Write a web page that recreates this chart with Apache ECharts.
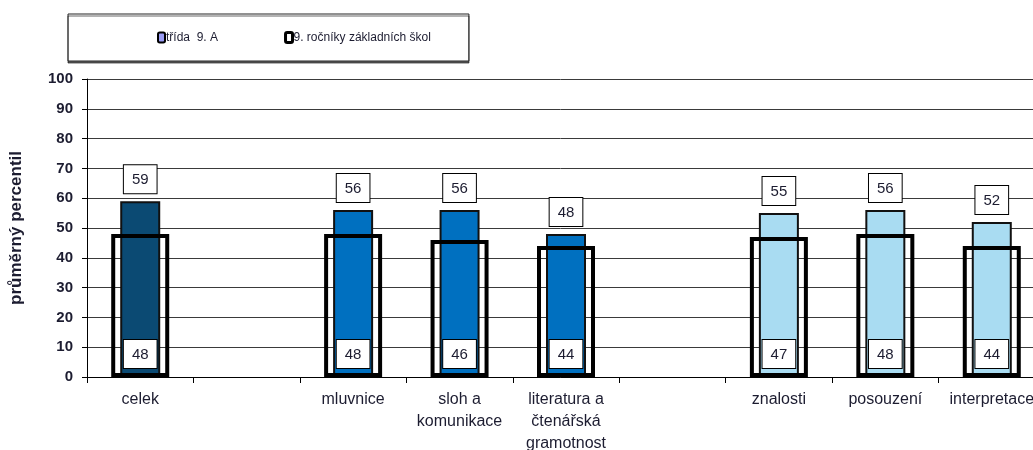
<!DOCTYPE html>
<html lang="cs">
<head>
    <meta charset="UTF-8">
    <title>průměrný percentil</title>
    <script src="https://cdn.jsdelivr.net/npm/echarts@6/dist/echarts.min.js"></script>
    <style type="text/css">
    html, body { margin: 0; padding: 0; background: #fff; }
    #main { width: 1033px; height: 450px; }
    </style>
</head>
<body>
    <div id="main"></div>
    <script type="text/javascript">
        // data
        var categories = ['celek', '', 'mluvnice', 'sloh a\nkomunikace', 'literatura a\nčtenářská\ngramotnost', '', 'znalosti', 'posouzení', 'interpretace'];
        var tridaValues = [59, '-', 56, 56, 48, '-', 55, 56, 52];
        var rocnikyValues = [48, '-', 48, 46, 44, '-', 47, 48, 44];
        var groups = [0, -1, 1, 1, 1, -1, 2, 2, 2];

        var groupColors = ['#0b4a73', '#0070c0', '#a9dcf2'];
        var textColor = '#1c1c30';
        var font = 'Liberation Sans, Arial, sans-serif';

        var tridaData = tridaValues.map(function (v, i) {
            if (v === '-') return '-';
            return { value: v, itemStyle: { color: groupColors[groups[i]] } };
        });

        var myChart = echarts.init(document.getElementById('main'));

        // value label in a framed white box
        function boxLabel(position, distance) {
            return {
                show: true,
                position: position,
                distance: distance,
                fontSize: 15,
                color: textColor,
                backgroundColor: '#fff',
                borderColor: '#000',
                borderWidth: 1,
                padding: [7, 8, 6, 8]
            };
        }

        var option = {
            animation: false,
            textStyle: { fontFamily: font },
            legend: {
                left: 68,
                top: 14,
                padding: [17, 38, 17, 89],
                itemGap: 66,
                itemWidth: 7,
                itemHeight: 10,
                backgroundColor: '#fff',
                borderColor: '#222',
                borderWidth: 1,
                shadowColor: 'rgba(0,0,0,0.6)',
                shadowOffsetY: 2,
                shadowOffsetX: 0,
                shadowBlur: 0,
                textStyle: {
                    fontSize: 12,
                    color: textColor,
                    padding: [0, 0, 0, -4]
                },
                data: [
                    { name: 'třída  9. A', itemStyle: { color: '#9a9cf5', borderColor: '#000', borderWidth: 2 } },
                    { name: '9. ročníky základních škol', itemStyle: { color: '#fff', borderColor: '#000', borderWidth: 3 } }
                ]
            },
            grid: {
                left: 87,
                top: 79,
                width: 958,
                height: 298,
                outerBoundsMode: 'none'
            },
            xAxis: [{
                type: 'category',
                data: categories,
                axisLine: { lineStyle: { color: '#000', width: 1 } },
                axisTick: { show: true, length: 6, lineStyle: { color: '#000' } },
                axisLabel: {
                    interval: 0,
                    margin: 12,
                    fontSize: 16,
                    lineHeight: 22,
                    color: textColor
                }
            }, {
                type: 'category',
                data: categories,
                show: false
            }],
            yAxis: {
                type: 'value',
                min: 0,
                max: 100,
                interval: 10,
                name: 'průměrný percentil',
                nameLocation: 'middle',
                nameGap: 62,
                nameTextStyle: { fontSize: 17, fontWeight: 'bold', color: textColor },
                axisLine: { show: true, lineStyle: { color: '#000' } },
                axisTick: { show: true, length: 5, lineStyle: { color: '#000' } },
                axisLabel: { fontSize: 15, fontWeight: 'bold', color: textColor, margin: 14 },
                splitLine: { lineStyle: { color: '#3a3a3a', width: 1 } }
            },
            series: [{
                name: 'třída  9. A',
                type: 'bar',
                xAxisIndex: 0,
                data: tridaData,
                barWidth: 40,
                z: 2,
                itemStyle: { color: '#9a9cf5', borderColor: '#111', borderWidth: 2 },
                label: boxLabel('top', 8)
            }, {
                name: '9. ročníky základních škol',
                type: 'bar',
                xAxisIndex: 1,
                data: rocnikyValues,
                barWidth: 58,
                z: 3,
                itemStyle: { color: 'rgba(0,0,0,0)', borderColor: '#000', borderWidth: 4 },
                label: boxLabel('insideBottom', 9)
            }]
        };

        myChart.setOption(option);
    </script>
</body>
</html>
